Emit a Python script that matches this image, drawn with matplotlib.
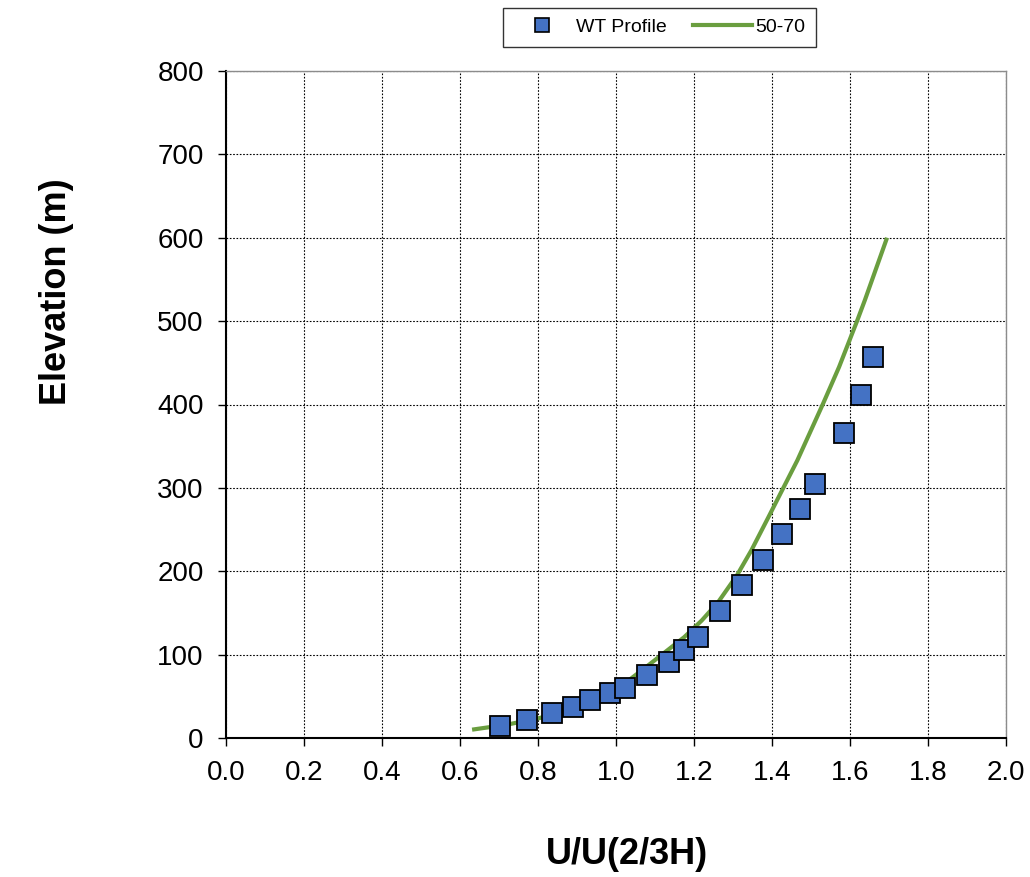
import matplotlib.pyplot as plt
from matplotlib.lines import Line2D

plt.rcParams['font.family'] = ['Liberation Sans', 'DejaVu Sans']

# wind tunnel profile (U/Uref, elevation m)
wt_u = [0.703, 0.772, 0.836, 0.890, 0.933, 0.985, 1.023, 1.079, 1.136, 1.174,
        1.210, 1.267, 1.323, 1.377, 1.426, 1.472, 1.510, 1.585, 1.628, 1.659]
wt_z = [14, 22, 30, 37, 46, 54, 60, 76, 91, 106,
        121, 152, 183, 213, 245, 275, 305, 366, 411, 457]

# target curve 50-70
tgt_u = [0.631, 0.72, 0.805, 0.97, 1.035, 1.085, 1.175, 1.220, 1.262, 1.310,
         1.347, 1.391, 1.416, 1.465, 1.530, 1.572, 1.618, 1.638, 1.695]
tgt_z = [10, 16, 24, 50, 70, 88, 121, 141, 163, 195,
         225, 265, 288, 333, 400, 445, 500, 525, 600]

xticks = [0.0, 0.2, 0.4, 0.6, 0.8, 1.0, 1.2, 1.4, 1.6, 1.8, 2.0]
yticks = [0, 100, 200, 300, 400, 500, 600, 700, 800]

fig = plt.figure(figsize=(10.30, 8.77), dpi=100)
ax = fig.add_axes([226 / 1030, 1 - 738 / 877, 780 / 1030, 667 / 877])

ax.plot(tgt_u, tgt_z, color='#6A9E3F', lw=3, zorder=3,
        solid_capstyle='butt', solid_joinstyle='round')
ax.plot(wt_u, wt_z, ls='none', marker='s', ms=14, mfc='#4472C4',
        mec='black', mew=1.3, zorder=4)

ax.set_xlim(0, 2.0)
ax.set_ylim(0, 800)
ax.set_xticks(xticks)
ax.set_yticks(yticks)
ax.set_xticklabels([f'{v:.1f}' for v in xticks])
ax.tick_params(axis='both', labelsize=20, length=6, width=1, direction='out',
               color='black')
ax.tick_params(axis='y', pad=10)
ax.tick_params(axis='x', pad=10)
ax.grid(True, color='black', ls=(0, (1.5, 1.5)), lw=0.8)
for s in ['left', 'bottom']:
    ax.spines[s].set_color('black')
    ax.spines[s].set_linewidth(1.5)
for s in ['top', 'right']:
    ax.spines[s].set_color('#8c8c8c')
    ax.spines[s].set_linewidth(1)

fig.text(627 / 1030, 1 - 855 / 877, 'U/U(2/3H)', fontsize=26, fontweight='bold',
         ha='center', va='center')
fig.text(57 / 1030, 1 - 292 / 877, 'Elevation (m)', fontsize=26, fontweight='bold',
         ha='center', va='center', rotation=90)

handles = [Line2D([], [], ls='none', marker='s', ms=10, mfc='#4472C4', mec='black', mew=1.2),
           Line2D([], [], color='#6A9E3F', lw=3)]
leg = fig.legend(handles, ['WT Profile', '50-70'], loc='center',
                 bbox_to_anchor=(659.5 / 1030, 1 - 27.5 / 877), ncol=2,
                 fontsize=14, frameon=True, fancybox=False, edgecolor='black',
                 handlelength=3.0, handletextpad=0.2, columnspacing=1.4,
                 borderpad=0.55, borderaxespad=0)
leg.get_frame().set_linewidth(1)

fig.savefig('out.png', dpi=100)
